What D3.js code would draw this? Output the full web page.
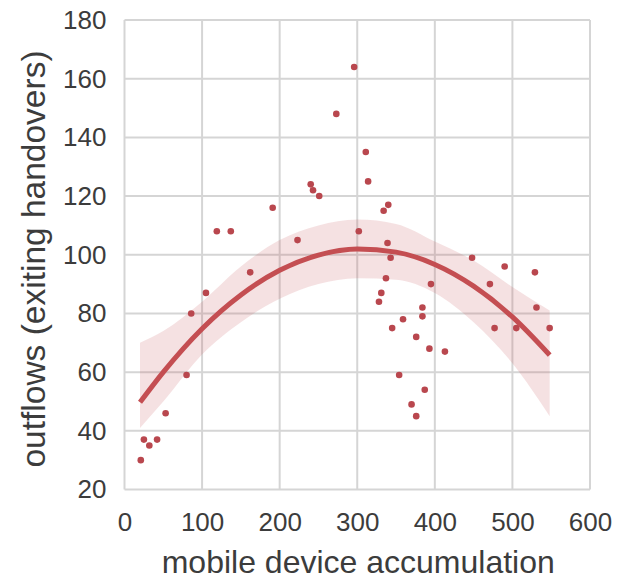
<!DOCTYPE html>
<html>
<head>
<meta charset="utf-8">
<script src="https://cdn.jsdelivr.net/npm/d3@7"></script>
<style>
  html, body { margin: 0; padding: 0; background: #fff; }
  svg { display: block; font-family: "Liberation Sans", Arial, sans-serif; }
</style>
</head>
<body>
<svg id="chart" width="618" height="580"></svg>
<script>
// scatter data: mobile device accumulation vs outflows
const accumulation = [21,25,32,42,53,80,86,105,119,137,162,191,223,240,243,251,273,296,302,311,314,328,331,334,337,339,340,343,345,354,359,370,376,376,384,384,387,393,395,413,448,471,477,490,505,529,531,548];
const outflows     = [30,37,35,37,46,59,80,87,108,108,94,116,105,124,122,120,148,164,108,135,125,84,87,115,92,104,117,99,75,59,78,49,45,72,82,79,54,68,90,67,99,90,75,96,75,94,82,75];

// order-2 regression fit and confidence band
const fitX   = [20, 50, 100, 150, 200, 250, 300, 350, 400, 450, 500, 548];
const fitY   = [49.7, 60, 74.8, 86.3, 94.7, 99.9, 102, 100.9, 96.7, 89.3, 78.8, 65.8];
const ciHigh = [70, 74, 84, 96, 105, 110, 112, 110.5, 104.5, 98, 89, 81];
const ciLow  = [41, 50, 66, 77, 85, 90, 92, 91.5, 87, 77, 63, 45];

const xTicks = [0, 100, 200, 300, 400, 500, 600];
const yTicks = [20, 40, 60, 80, 100, 120, 140, 160, 180];

const color = "#C44E52";
const textColor = "#3c3c3c";
const svg = d3.select("#chart");
const pL = 124.5, pR = 590, pT = 20, pB = 489.5;

const x = d3.scaleLinear().domain([0, 600]).range([pL, pR]);
const y = d3.scaleLinear().domain([20, 180]).range([pB, pT]);

// grid
const grid = svg.append("g");
grid.selectAll("line.v").data(xTicks).join("line")
  .attr("x1", d => x(d)).attr("x2", d => x(d))
  .attr("y1", pT).attr("y2", pB)
  .attr("stroke", "#d5d5d5").attr("stroke-width", 2);
grid.selectAll("line.h").data(yTicks).join("line")
  .attr("y1", d => y(d)).attr("y2", d => y(d))
  .attr("x1", pL).attr("x2", pR)
  .attr("stroke", "#d5d5d5").attr("stroke-width", 2);

// axes (labels only)
const xAxis = svg.append("g").attr("transform", `translate(0,${pB})`)
  .call(d3.axisBottom(x).tickValues(xTicks).tickSize(0).tickPadding(23).tickFormat(d3.format("d")));
const yAxis = svg.append("g").attr("transform", `translate(${pL},0)`)
  .call(d3.axisLeft(y).tickValues(yTicks).tickSize(0).tickPadding(18).tickFormat(d3.format("d")));
[xAxis, yAxis].forEach(a => {
  a.select(".domain").remove();
  a.selectAll("text").attr("font-size", 26).attr("fill", textColor)
    .attr("font-family", "'Liberation Sans', Arial, sans-serif");
});

// confidence band
const band = fitX.map((d, i) => ({x: d, lo: ciLow[i], hi: ciHigh[i]}));
svg.append("path").datum(band)
  .attr("d", d3.area().x(d => x(d.x)).y0(d => y(d.lo)).y1(d => y(d.hi)).curve(d3.curveMonotoneX))
  .attr("fill", color).attr("fill-opacity", 0.17);

// scatter
svg.append("g").selectAll("circle")
  .data(accumulation.map((d, i) => [d, outflows[i]]))
  .join("circle")
  .attr("cx", d => x(d[0])).attr("cy", d => y(d[1]))
  .attr("r", 3.3).attr("fill", "#b9474e");

// fit line
svg.append("path").datum(fitX.map((d, i) => [d, fitY[i]]))
  .attr("d", d3.line().x(d => x(d[0])).y(d => y(d[1])).curve(d3.curveMonotoneX))
  .attr("fill", "none").attr("stroke", color).attr("stroke-width", 5);

// axis labels
svg.append("text")
  .attr("x", (pL + pR) / 2 + 1).attr("y", 573)
  .attr("text-anchor", "middle").attr("font-size", 32).attr("fill", textColor)
  .text("mobile device accumulation");
svg.append("text")
  .attr("transform", `translate(45,259) rotate(-90)`)
  .attr("text-anchor", "middle").attr("font-size", 33.5).attr("fill", textColor)
  .text("outflows (exiting handovers)");
</script>
</body>
</html>
